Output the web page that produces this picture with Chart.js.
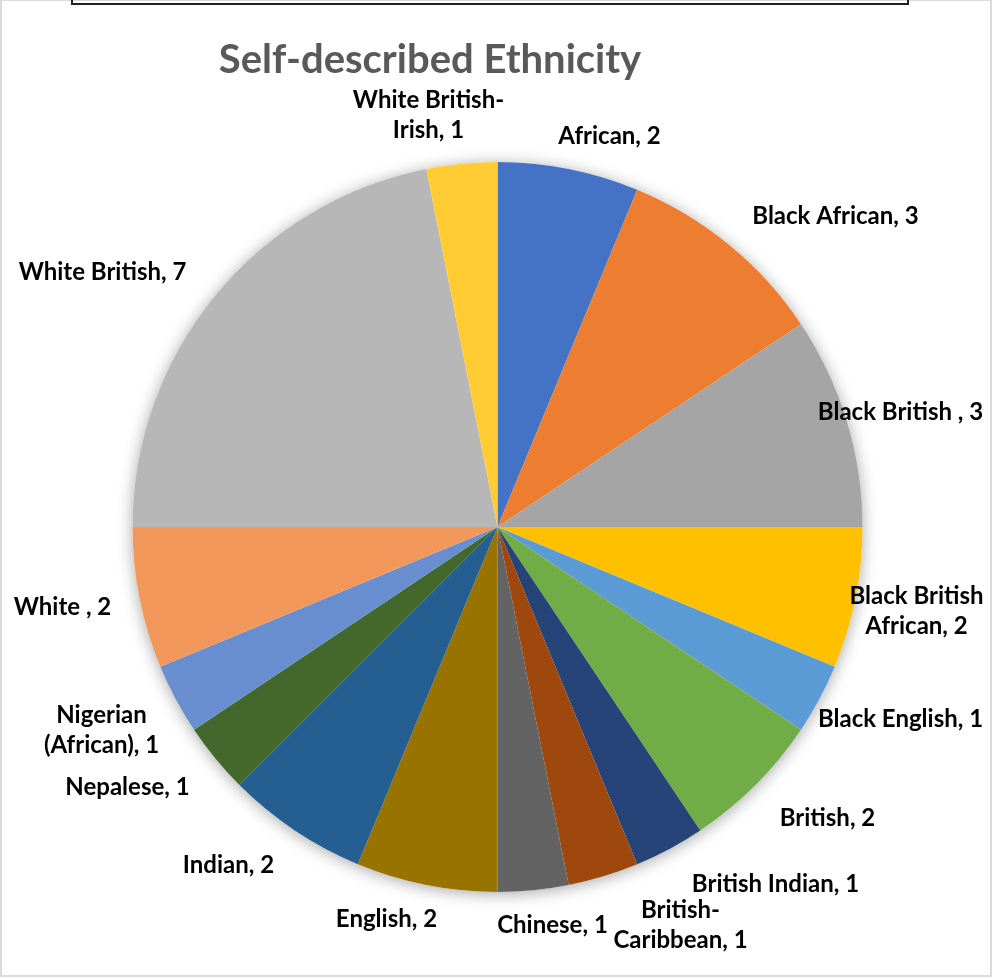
<!DOCTYPE html>
<html>
<head>
<meta charset="utf-8">
<title>Self-described Ethnicity</title>
<script src="https://cdn.jsdelivr.net/npm/chart.js@4/dist/chart.umd.min.js"></script>
<style>
    body { margin: 0; background: #fff; }
    #frame {
        position: relative;
        width: 988px;
        height: 974px;
        border: 2px solid #dcdcdc;
        border-top-width: 1px;
    }
    #topbox {
        position: absolute;
        left: 69px;
        top: -12px;
        width: 834px;
        height: 12px;
        border: 2px solid #222;
    }
    canvas { position: absolute; left: -2px; top: -1px; }
</style>
</head>
<body>
<div id="frame">
    <div id="topbox"></div>
    <canvas id="ethnicityChart" width="992" height="978"></canvas>
</div>
<script>
// category names ('\n' marks where the label wraps)
const categories = [
    'African', 'Black African', 'Black British ', 'Black British\nAfrican',
    'Black English', 'British', 'British Indian', 'British-\nCaribbean',
    'Chinese', 'English', 'Indian', 'Nepalese',
    'Nigerian\n(African)', 'White ', 'White British', 'White British-\nIrish'
];
const counts = [2, 3, 3, 2, 1, 2, 1, 1, 1, 2, 2, 1, 1, 2, 7, 1];

const colors = [
    '#4472C4', '#ED7D31', '#A5A5A5', '#FFC000', '#5B9BD5', '#70AD47', '#264478', '#9E480E',
    '#636363', '#997300', '#255E91', '#43682B', '#698ED0', '#F1975A', '#B7B7B7', '#FFCD33'
];

// label centres, relative to the pie centre
const labelOffsets = [
    [112, -391], [338, -311], [403, -115], [419, 84],
    [403, 192], [330, 291], [278, 357], [183, 398],
    [55, 398], [-111, 392], [-269, 338], [-370, 260],
    [-396, 203], [-435, 80], [-395, -255], [-69, -412]
];

const FONT = 'Lato, "Open Sans", sans-serif';

// soft drop shadow under the whole pie
const pieShadow = {
    id: 'pieShadow',
    beforeDatasetsDraw(chart) {
        const arc = chart.getDatasetMeta(0).data[0];
        if (!arc) return;
        const ctx = chart.ctx;
        ctx.save();
        ctx.shadowColor = 'rgba(0,0,0,0.35)';
        ctx.shadowBlur = 16;
        ctx.shadowOffsetY = 2;
        ctx.fillStyle = '#fff';
        ctx.beginPath();
        ctx.arc(arc.x, arc.y, arc.outerRadius, 0, Math.PI * 2);
        ctx.fill();
        ctx.restore();
    }
};

// title plus "name, value" labels outside the slices
const sliceLabels = {
    id: 'sliceLabels',
    afterDatasetsDraw(chart) {
        const ctx = chart.ctx;
        const arcs = chart.getDatasetMeta(0).data;
        const cx = arcs[0].x, cy = arcs[0].y;

        ctx.save();
        ctx.fillStyle = '#595959';
        ctx.font = 'bold 40px ' + FONT;
        ctx.textAlign = 'center';
        ctx.textBaseline = 'middle';
        ctx.fillText('Self-described Ethnicity', 430, 60);

        ctx.fillStyle = '#000';
        ctx.font = 'bold 24px ' + FONT;
        categories.forEach((name, i) => {
            const lines = (name + ', ' + counts[i]).split('\n');
            const x = cx + labelOffsets[i][0];
            const y = cy + labelOffsets[i][1];
            lines.forEach((line, j) => {
                ctx.fillText(line, x, y + (j - (lines.length - 1) / 2) * 30);
            });
        });
        ctx.restore();
    }
};

new Chart(document.getElementById('ethnicityChart'), {
    type: 'pie',
    data: {
        labels: categories.map(c => c.replace('\n', ' ')),
        datasets: [{
            data: counts,
            backgroundColor: colors,
            borderWidth: 0
        }]
    },
    options: {
        responsive: false,
        animation: false,
        layout: {
            padding: { left: 132, right: 129, top: 162, bottom: 86 }
        },
        plugins: {
            legend: { display: false },
            tooltip: { enabled: false },
            title: { display: false }
        }
    },
    plugins: [pieShadow, sliceLabels]
});
</script>
</body>
</html>
